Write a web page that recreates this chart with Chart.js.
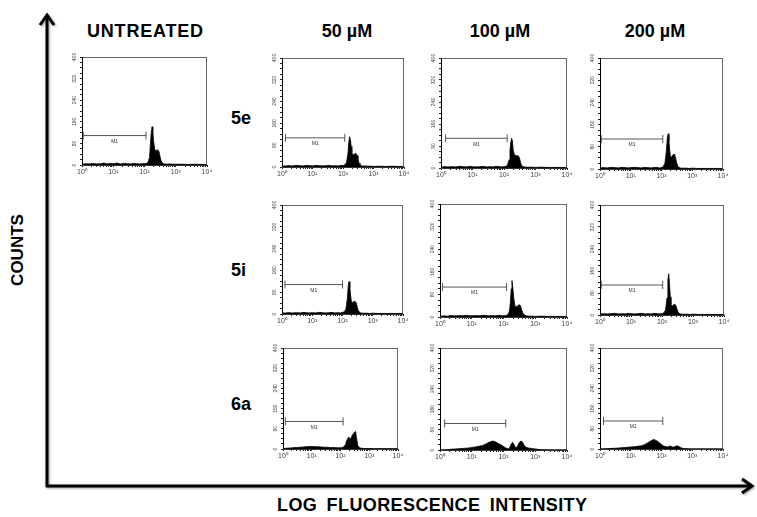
<!DOCTYPE html>
<html>
<head>
<meta charset="utf-8">
<script src="https://cdn.jsdelivr.net/npm/chart.js@4.4.0/dist/chart.umd.min.js"></script>
<style>
  body { margin: 0; background: #fff; }
  #page { position: relative; width: 757px; height: 517px; overflow: hidden; font-family: "Liberation Sans", Arial, sans-serif; }
  .lbl { position: absolute; font-weight: bold; color: #000; white-space: nowrap; }
  canvas { position: absolute; }
  svg { position: absolute; left: 0; top: 0; }
</style>
</head>
<body>
<div id="page">
  <svg width="757" height="517" style="filter: drop-shadow(1px 1px 1px #999)">
    <line x1="47" y1="15" x2="47" y2="487" stroke="#000" stroke-width="3"/>
    <line x1="46" y1="486" x2="751" y2="486" stroke="#000" stroke-width="3"/>
    <polyline points="40,25 47,15 54,25" fill="none" stroke="#000" stroke-width="3"/>
    <polyline points="742,479 752,486 742,493" fill="none" stroke="#000" stroke-width="3"/>
  </svg>
  <div class="lbl" style="left:87px; top:21px; font-size:18px; letter-spacing:0.8px;">UNTREATED</div>
  <div class="lbl" style="left:297px; top:21px; width:100px; text-align:center; font-size:18px;">50 µM</div>
  <div class="lbl" style="left:450px; top:21px; width:100px; text-align:center; font-size:18px;">100 µM</div>
  <div class="lbl" style="left:605px; top:21px; width:100px; text-align:center; font-size:18px;">200 µM</div>
  <div class="lbl" style="left:231px; top:108px; font-size:18px;">5e</div>
  <div class="lbl" style="left:231px; top:260px; font-size:18px;">5i</div>
  <div class="lbl" style="left:231px; top:394px; font-size:18px;">6a</div>
  <div class="lbl" style="left:-22px; top:240px; width:80px; text-align:center; font-size:17px; transform: rotate(-90deg);">COUNTS</div>
  <div class="lbl" style="left:277px; top:495px; font-size:18px; letter-spacing:0.4px; word-spacing:4px;">LOG FLUORESCENCE INTENSITY</div>
</div>

<script>
// Histogram channels (fluorescence, log scale)
const bins = [1, 1.3, 1.7, 2.2, 3, 4, 5, 6.5, 8, 10,
  13, 17, 22, 28, 35, 45, 55, 70, 85, 100,
  115, 130, 145, 155, 165, 175, 185, 195, 210, 225,
  240, 255, 270, 290, 310, 335, 360, 400, 450, 520,
  650, 800, 1000, 1500, 2500, 4000, 6500, 10000];

// Counts per panel
const untreated = [3,5,4,6,4,5,7,4,6,5, 7,4,6,5,4,6,5,4,5,6, 6,10,28,80,122,142,128,90,60,52, 54,56,55,50,34,18,9,5,4,3, 4,3,3,3,2,3,2,2];
const c5e50  = [3,4,5,4,6,5,4,6,5,4, 6,5,4,5,6,4,5,4,6,5, 8,16,48,90,111,100,76,54,44,46, 48,50,49,42,28,14,8,5,3,4, 3,3,2,3,2,3,2,2];
const c5e100 = [3,5,4,5,4,6,5,4,6,5, 4,5,6,4,5,4,6,5,4,5, 6,12,30,66,95,108,98,68,50,46, 46,45,45,43,36,20,10,5,4,3, 3,3,2,3,2,2,2,2];
const c5e200 = [4,5,4,6,5,4,6,5,4,5, 6,5,4,6,5,4,5,6,4,5, 9,22,68,114,127,100,68,46,42,48, 52,53,49,38,23,12,7,4,3,3, 3,2,3,2,2,2,2,2];
const c5i50  = [3,4,5,4,5,4,6,5,4,5, 4,6,5,4,5,6,4,5,4,6, 8,18,58,104,119,98,70,48,40,44, 46,47,45,38,24,12,7,4,3,3, 3,2,3,2,2,2,2,2];
const c5i100 = [3,4,3,5,4,5,4,6,5,4, 5,4,6,5,4,5,4,6,5,4, 5,7,12,24,54,100,129,108,68,44, 36,36,38,41,43,42,32,16,7,4, 3,3,2,3,2,2,2,2];
const c5i200 = [4,5,4,5,6,4,5,4,6,5, 4,5,6,4,5,4,6,5,4,5, 8,18,62,128,150,110,66,38,32,35, 38,39,37,30,18,10,6,4,3,3, 3,2,3,2,2,2,2,2];
const c6a50  = [2,3,4,5,6,7,8,9,10,10, 9,9,8,7,7,6,6,5,5,5, 6,9,16,26,34,40,45,47,43,40, 46,55,58,62,67,69,44,14,6,3, 2,2,2,1,1,1,1,1];
const c6a100 = [0,0,1,3,4,5,6,7,8,10, 12,15,18,24,30,35,32,25,20,14, 9,6,5,8,16,24,28,29,24,15, 11,10,12,20,28,33,35,30,18,10, 7,6,4,1,0,0,0,0];
const c6a200 = [0,0,1,2,3,4,5,6,7,8, 9,11,13,17,24,32,38,33,25,18, 13,10,9,8,9,10,11,12,10,8, 7,8,10,11,12,12,11,7,4,2, 1,0,0,0,0,0,0,0];

// M1 marker gate per panel
const m1Start = [1.1, 1.3, 1.4, 1.1, 1.25, 1.2, 1.1, 1.2, 1.4, 1.3];
const m1End   = [112, 114, 126, 110, 100, 125, 105, 123, 118, 110];
const m1Level = [109, 107, 108, 108, 108, 106, 109, 109, 104, 111];

// Tick labels
const countTicks = [0, 80, 160, 240, 320, 400];
const decadeTicks = [1, 10, 100, 1000, 10000];

const panelCounts = [untreated, c5e50, c5e100, c5e200, c5i50, c5i100, c5i200, c6a50, c6a100, c6a200];

// Plot box of each panel on the page
const panelBoxes = [
  { l: 82,  t: 54,  r: 207, b: 165 },
  { l: 282, t: 55,  r: 404, b: 167 },
  { l: 441, t: 55,  r: 567, b: 168 },
  { l: 600, t: 55,  r: 723, b: 169 },
  { l: 282, t: 202, r: 403, b: 314 },
  { l: 440, t: 201, r: 567, b: 317 },
  { l: 600, t: 202, r: 724, b: 315 },
  { l: 283, t: 345, r: 398, b: 449 },
  { l: 440, t: 345, r: 567, b: 450 },
  { l: 600, t: 345, r: 723, b: 449 }
];

const AXIS_W = 12, AXIS_H = 13, PAD_T = 2, PAD_R = 8;
const sup = ['\u2070', '\u00B9', '\u00B2', '\u00B3', '\u2074'];

// minor log ticks 1..9 per decade
const xMinor = [];
for (let d = 0; d < 4; d++) {
  for (let k = 1; k < 10; k++) xMinor.push(k * Math.pow(10, d));
}
xMinor.push(10000);

const facsPlugin = {
  id: 'facs',
  afterDraw(chart) {
    const { ctx, chartArea, scales } = chart;
    const y = scales.y, x = scales.x;
    ctx.save();
    // frame
    ctx.strokeStyle = '#666';
    ctx.lineWidth = 1;
    ctx.strokeRect(chartArea.left + 0.5, chartArea.top + 0.5, chartArea.right - chartArea.left - 1, chartArea.bottom - chartArea.top);
    ctx.strokeStyle = '#000';
    ctx.beginPath();
    ctx.moveTo(chartArea.left + 0.5, chartArea.top);
    ctx.lineTo(chartArea.left + 0.5, chartArea.bottom);
    ctx.lineTo(chartArea.right, chartArea.bottom);
    ctx.stroke();
    // rotated count labels
    ctx.fillStyle = '#444';
    ctx.font = '5px "Liberation Sans", Arial';
    ctx.textAlign = 'center';
    ctx.textBaseline = 'middle';
    countTicks.forEach(v => {
      ctx.save();
      ctx.translate(chartArea.left - 7, y.getPixelForValue(v));
      ctx.rotate(-Math.PI / 2);
      ctx.fillText(String(v), 0, 0);
      ctx.restore();
    });
    // M1 label
    const p = chart.options.plugins.facs.panel;
    const mx = x.getPixelForValue(Math.sqrt(m1Start[p] * m1End[p]));
    const my = y.getPixelForValue(m1Level[p]);
    ctx.fillStyle = '#333';
    ctx.fillText('M1', mx, my + 6);
    ctx.restore();
  }
};

const page = document.getElementById('page');

panelCounts.forEach((counts, p) => {
  const box = panelBoxes[p];
  const canvas = document.createElement('canvas');
  const w = box.r - box.l + AXIS_W + PAD_R;
  const h = box.b - box.t + AXIS_H + PAD_T;
  canvas.width = w;
  canvas.height = h;
  canvas.style.left = (box.l - AXIS_W) + 'px';
  canvas.style.top = (box.t - PAD_T) + 'px';
  canvas.style.width = w + 'px';
  canvas.style.height = h + 'px';
  page.appendChild(canvas);

  new Chart(canvas, {
    type: 'line',
    data: {
      datasets: [
        {
          data: bins.map((b, i) => ({ x: b, y: counts[i] })),
          fill: 'origin',
          backgroundColor: '#000',
          borderColor: '#000',
          borderWidth: 0.8,
          pointRadius: 0,
          tension: 0
        },
        {
          data: [{ x: m1Start[p], y: m1Level[p] }, { x: m1End[p], y: m1Level[p] }],
          fill: false,
          borderColor: '#555',
          borderWidth: 1,
          pointStyle: 'line',
          rotation: 90,
          pointRadius: 4,
          pointBorderColor: '#555',
          pointBorderWidth: 1
        }
      ]
    },
    options: {
      responsive: false,
      animation: false,
      events: [],
      devicePixelRatio: 1,
      layout: { padding: { top: PAD_T, right: PAD_R, left: 0, bottom: 0 } },
      plugins: { legend: { display: false }, tooltip: { enabled: false }, facs: { panel: p } },
      scales: {
        x: {
          type: 'logarithmic',
          min: 1,
          max: 10000,
          afterFit: s => { s.height = AXIS_H; },
          afterBuildTicks: s => { s.ticks = xMinor.map(v => ({ value: v })); },
          ticks: {
            autoSkip: false,
            maxRotation: 0,
            minRotation: 0,
            padding: 1,
            color: '#444',
            font: { size: 7, family: '"Liberation Sans", Arial' },
            callback: v => {
              const i = decadeTicks.indexOf(v);
              return i >= 0 ? '10' + sup[i] : '';
            }
          },
          grid: { drawOnChartArea: false, tickLength: 2, color: '#222' },
          border: { display: false }
        },
        y: {
          min: 0,
          max: 400,
          afterFit: s => { s.width = AXIS_W; },
          ticks: { stepSize: 20, display: false },
          grid: { drawOnChartArea: false, tickLength: 2, color: '#222' },
          border: { display: false }
        }
      }
    },
    plugins: [facsPlugin]
  });
});
</script>
</body>
</html>
